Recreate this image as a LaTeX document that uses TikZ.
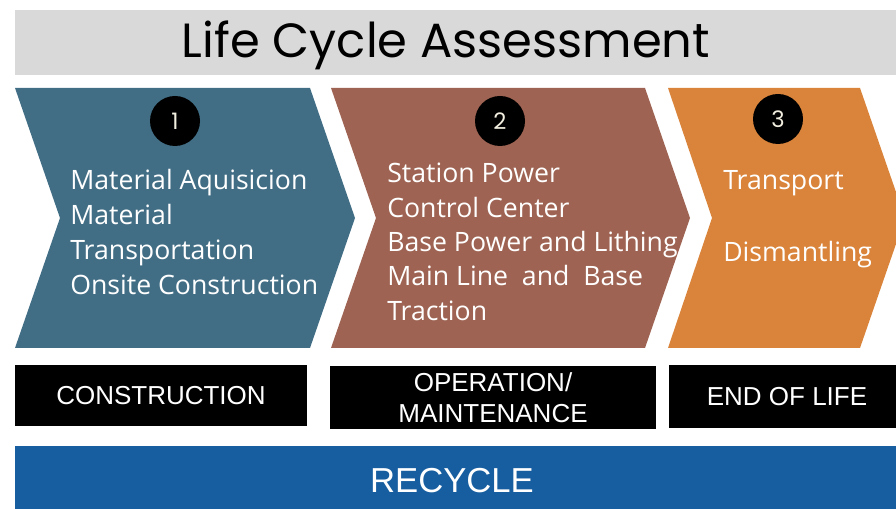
\documentclass[tikz,border=0pt]{standalone}
\usepackage{fontspec}
\setmainfont{Open Sans}
\newfontfamily\titlefont{Poppins}
\newfontfamily\labelfont{Liberation Sans}
\usetikzlibrary{positioning}
\definecolor{bandgray}{HTML}{D9D9D9}
\definecolor{stageblue}{HTML}{426E85}
\definecolor{stagebrown}{HTML}{9E6352}
\definecolor{stageorange}{HTML}{D9843A}
\definecolor{recycleblue}{HTML}{175EA0}
\definecolor{numcream}{HTML}{F2EFE0}

\tikzset{
	stagetext/.style={anchor=base west, inner sep=0pt, text=white, font=\fontsize{20}{23}\selectfont},
	stepnum/.style={circle, fill=black, minimum size=37.5pt, inner sep=0pt, text=numcream, font=\titlefont\fontsize{17}{17}\selectfont},
	phasebox/.style={fill=black, text=white, align=center, inner sep=0pt, font=\labelfont\fontsize{19.5}{23}\selectfont}
}

\begin{document}
\begin{tikzpicture}[x=0.75pt, y=-0.75pt]
	\useasboundingbox (0,0) rectangle (896,509);
	% title band
	\fill[bandgray] (15,10) rectangle (896,75);
	\node (title) at (446,45) {\titlefont\fontsize{36}{36}\selectfont Life Cycle Assessment};

	% the three chevrons
	\fill[stageblue] (15,88) -- (310,88) -- (355,218) -- (310,348) -- (15,348) -- (60,218) -- cycle;
	\fill[stagebrown] (331,88) -- (645,88) -- (690,218) -- (645,348) -- (331,348) -- (376,218) -- cycle;
	\fill[stageorange] (668,88) -- (860,88) -- (905,218) -- (860,348) -- (668,348) -- (712,218) -- cycle;

	\node[stepnum] (num1) at (175,121) {1};
	\node[stepnum] (num2) at (500,121) {2};
	\node[stepnum] (num3) at (778,119) {3};

	\foreach \txt [count=\i] in {Material Aquisicion, Material, Transportation, Onsite Construction}
		\node[stagetext] (con\i) at (70, 155.3+34.7*\i) {\txt};
	\foreach \txt [count=\i] in {Station Power, Control Center, Base Power and Lithing, Main Line~ and~ Base, Traction}
		\node[stagetext] (ope\i) at (387, 148.7+34.3*\i) {\txt};
	\node[stagetext] (eol1) at (723,190) {Transport};
	\node[stagetext] (eol2) at (723,262) {Dismantling};

	% phase labels
	\node[phasebox, minimum width=219pt, minimum height=45.75pt] (construction) at (161,396) {CONSTRUCTION};
	\node[phasebox, minimum width=244.5pt, minimum height=47.25pt] (operation) at (493,397.5) {OPERATION/\\MAINTENANCE};
	\node[phasebox, minimum width=177pt, minimum height=47.25pt] (endoflife) at (787,396.5) {END OF LIFE};

	% recycle band
	\fill[recycleblue] (15,446) rectangle (896,515);
	\node[text=white, font=\labelfont\fontsize{26}{26}\selectfont] (recycle) at (452,481) {RECYCLE};
\end{tikzpicture}
\end{document}
